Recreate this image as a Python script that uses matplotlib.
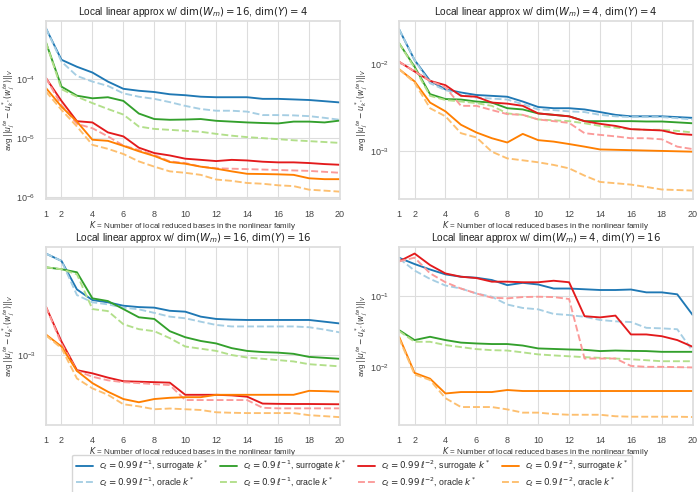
import numpy as np
import matplotlib
matplotlib.use("Agg")
import matplotlib.pyplot as plt
import matplotlib.ticker as mticker
import seaborn as sns

sns.set_theme(style="whitegrid")
plt.rcParams['font.family'] = ['Liberation Sans', 'DejaVu Sans']

K = list(range(1, 21))
xticks = [1, 2, 4, 6, 8, 10, 12, 14, 16, 18, 20]

# Panel (0,0): dim(W_m)=16, dim(Y)=4
tl_blue_s = [7.1e-4, 2.1e-4, 1.6e-4, 1.28e-4, 9e-5, 6.8e-5, 6.3e-5, 6.0e-5, 5.5e-5, 5.3e-5, 5.0e-5, 4.9e-5, 4.9e-5, 4.9e-5, 4.6e-5, 4.6e-5, 4.5e-5, 4.4e-5, 4.2e-5, 4.0e-5]
tl_blue_o = [7.1e-4, 1.96e-4, 1.12e-4, 9e-5, 7.6e-5, 5.7e-5, 5.0e-5, 4.6e-5, 4.05e-5, 3.5e-5, 3.1e-5, 2.9e-5, 2.9e-5, 2.8e-5, 2.45e-5, 2.45e-5, 2.42e-5, 2.35e-5, 2.2e-5, 2.04e-5]
tl_green_s = [4.1e-4, 7.4e-5, 5.2e-5, 4.7e-5, 4.9e-5, 4.25e-5, 2.6e-5, 2.1e-5, 2.04e-5, 2.06e-5, 2.1e-5, 1.96e-5, 1.9e-5, 1.84e-5, 1.8e-5, 1.77e-5, 1.9e-5, 1.9e-5, 1.84e-5, 1.98e-5]
tl_green_o = [4.1e-4, 6.7e-5, 5.0e-5, 3.9e-5, 3.1e-5, 2.5e-5, 1.57e-5, 1.43e-5, 1.38e-5, 1.33e-5, 1.28e-5, 1.18e-5, 1.1e-5, 1.04e-5, 1.0e-5, 9.6e-6, 9.2e-6, 8.9e-6, 8.6e-6, 8.3e-6]
tl_red_s = [1.03e-4, 4.25e-5, 1.93e-5, 1.84e-5, 1.25e-5, 1.07e-5, 6.9e-6, 5.6e-6, 5.1e-6, 4.5e-6, 4.3e-6, 4.1e-6, 4.3e-6, 4.2e-6, 4.0e-6, 3.9e-6, 3.9e-6, 3.8e-6, 3.65e-6, 3.55e-6]
tl_red_o = [1.03e-4, 3.6e-5, 1.74e-5, 1.47e-5, 1.07e-5, 7.5e-6, 6.3e-6, 5.2e-6, 4.05e-6, 3.8e-6, 3.3e-6, 3.1e-6, 3.05e-6, 3.0e-6, 2.95e-6, 2.9e-6, 2.85e-6, 2.8e-6, 2.7e-6, 2.6e-6]
tl_orange_s = [7.0e-5, 3.4e-5, 1.9e-5, 9.4e-6, 9.0e-6, 7.4e-6, 6.0e-6, 5.0e-6, 3.95e-6, 3.7e-6, 3.3e-6, 3.05e-6, 2.75e-6, 2.5e-6, 2.48e-6, 2.45e-6, 2.4e-6, 2.1e-6, 2.03e-6, 2.03e-6]
tl_orange_o = [6.1e-5, 3.0e-5, 1.57e-5, 7.7e-6, 6.6e-6, 5.4e-6, 4.05e-6, 3.3e-6, 2.75e-6, 2.6e-6, 2.4e-6, 2.0e-6, 1.9e-6, 1.75e-6, 1.7e-6, 1.6e-6, 1.55e-6, 1.35e-6, 1.3e-6, 1.25e-6]

# Panel (0,1): dim(W_m)=4, dim(Y)=4
tr_blue_s = [0.025, 0.0111, 6.4e-3, 5.1e-3, 4.7e-3, 4.4e-3, 4.3e-3, 4.2e-3, 3.7e-3, 3.2e-3, 3.1e-3, 3.1e-3, 3.0e-3, 2.8e-3, 2.6e-3, 2.5e-3, 2.5e-3, 2.5e-3, 2.45e-3, 2.4e-3]
tr_blue_o = [0.025, 0.0111, 6.0e-3, 5.0e-3, 4.5e-3, 4.1e-3, 4.0e-3, 3.9e-3, 3.45e-3, 3.0e-3, 2.95e-3, 2.85e-3, 2.8e-3, 2.6e-3, 2.5e-3, 2.45e-3, 2.45e-3, 2.45e-3, 2.38e-3, 2.3e-3]
tr_green_s = [0.0173, 9.3e-3, 4.5e-3, 3.95e-3, 3.9e-3, 3.7e-3, 3.6e-3, 3.1e-3, 3.0e-3, 2.7e-3, 2.6e-3, 2.5e-3, 2.2e-3, 2.2e-3, 2.2e-3, 2.2e-3, 2.18e-3, 2.18e-3, 2.13e-3, 2.08e-3]
tr_green_o = [0.0173, 9.0e-3, 4.3e-3, 3.85e-3, 3.7e-3, 3.55e-3, 3.3e-3, 2.7e-3, 2.6e-3, 2.3e-3, 2.25e-3, 2.2e-3, 2.08e-3, 1.94e-3, 1.85e-3, 1.78e-3, 1.75e-3, 1.75e-3, 1.7e-3, 1.63e-3]
tr_red_s = [0.0106, 8.2e-3, 6.4e-3, 5.7e-3, 4.3e-3, 4.2e-3, 3.6e-3, 3.5e-3, 3.3e-3, 2.7e-3, 2.6e-3, 2.5e-3, 2.2e-3, 2.05e-3, 1.94e-3, 1.78e-3, 1.75e-3, 1.72e-3, 1.57e-3, 1.53e-3]
tr_red_o = [0.0106, 8.2e-3, 6.4e-3, 5.4e-3, 3.3e-3, 3.3e-3, 2.95e-3, 2.65e-3, 2.6e-3, 2.3e-3, 2.2e-3, 2.1e-3, 1.6e-3, 1.53e-3, 1.47e-3, 1.4e-3, 1.4e-3, 1.36e-3, 1.12e-3, 1.05e-3]
tr_orange_s = [8.7e-3, 6.3e-3, 3.6e-3, 2.85e-3, 2.0e-3, 1.63e-3, 1.4e-3, 1.25e-3, 1.57e-3, 1.33e-3, 1.28e-3, 1.2e-3, 1.12e-3, 1.04e-3, 1.03e-3, 1.02e-3, 1.01e-3, 1.0e-3, 0.99e-3, 0.98e-3]
tr_orange_o = [8.7e-3, 6.1e-3, 3.1e-3, 2.5e-3, 1.6e-3, 1.43e-3, 9.8e-4, 8.2e-4, 7.8e-4, 7.4e-4, 6.9e-4, 6.3e-4, 5.2e-4, 4.4e-4, 4.25e-4, 4.1e-4, 3.85e-4, 3.6e-4, 3.55e-4, 3.5e-4]

# Panel (1,0): dim(W_m)=16, dim(Y)=16
bl_blue_s = [5.3e-3, 4.7e-3, 2.94e-3, 2.47e-3, 2.38e-3, 2.25e-3, 2.2e-3, 2.18e-3, 2.07e-3, 2.04e-3, 1.88e-3, 1.81e-3, 1.79e-3, 1.78e-3, 1.78e-3, 1.78e-3, 1.78e-3, 1.78e-3, 1.73e-3, 1.68e-3]
bl_blue_o = [5.3e-3, 4.7e-3, 2.68e-3, 2.38e-3, 2.3e-3, 2.18e-3, 2.12e-3, 2.0e-3, 1.88e-3, 1.83e-3, 1.73e-3, 1.64e-3, 1.6e-3, 1.6e-3, 1.6e-3, 1.6e-3, 1.6e-3, 1.58e-3, 1.52e-3, 1.45e-3]
bl_green_s = [4.23e-3, 4.1e-3, 3.9e-3, 2.54e-3, 2.43e-3, 2.13e-3, 1.86e-3, 1.81e-3, 1.48e-3, 1.34e-3, 1.26e-3, 1.21e-3, 1.12e-3, 1.07e-3, 1.05e-3, 1.04e-3, 1.02e-3, 0.97e-3, 0.955e-3, 0.94e-3]
bl_green_o = [4.23e-3, 4.1e-3, 3.77e-3, 2.13e-3, 2.06e-3, 1.66e-3, 1.53e-3, 1.48e-3, 1.32e-3, 1.15e-3, 1.11e-3, 1.07e-3, 1.0e-3, 0.96e-3, 0.94e-3, 0.92e-3, 0.9e-3, 0.86e-3, 0.845e-3, 0.83e-3]
bl_red_s = [2.21e-3, 1.25e-3, 7.8e-4, 7.4e-4, 6.9e-4, 6.5e-4, 6.45e-4, 6.4e-4, 6.35e-4, 5.2e-4, 5.2e-4, 5.2e-4, 5.15e-4, 5.04e-4, 4.5e-4, 4.48e-4, 4.47e-4, 4.47e-4, 4.46e-4, 4.45e-4]
bl_red_o = [2.21e-3, 1.2e-3, 7.7e-4, 7.0e-4, 6.6e-4, 6.4e-4, 6.3e-4, 6.2e-4, 6.1e-4, 4.77e-4, 4.77e-4, 4.77e-4, 4.77e-4, 4.77e-4, 4.2e-4, 4.16e-4, 4.16e-4, 4.16e-4, 4.16e-4, 4.16e-4]
bl_orange_s = [1.4e-3, 1.15e-3, 7.7e-4, 6.3e-4, 5.47e-4, 4.85e-4, 4.6e-4, 4.85e-4, 4.95e-4, 5.0e-4, 5.0e-4, 5.2e-4, 5.2e-4, 5.2e-4, 5.2e-4, 5.2e-4, 5.2e-4, 5.55e-4, 5.52e-4, 5.47e-4]
bl_orange_o = [1.38e-3, 1.12e-3, 6.8e-4, 5.78e-4, 5.2e-4, 4.45e-4, 4.3e-4, 4.1e-4, 4.15e-4, 4.1e-4, 4.05e-4, 3.9e-4, 3.87e-4, 3.85e-4, 3.85e-4, 3.85e-4, 3.85e-4, 3.72e-4, 3.66e-4, 3.6e-4]

# Panel (1,1): dim(W_m)=4, dim(Y)=16
br_blue_s = [0.348, 0.284, 0.238, 0.203, 0.188, 0.182, 0.169, 0.143, 0.154, 0.146, 0.128, 0.128, 0.125, 0.122, 0.122, 0.124, 0.113, 0.113, 0.106, 0.054]
br_blue_o = [0.34, 0.23, 0.175, 0.141, 0.128, 0.109, 0.098, 0.076, 0.068, 0.065, 0.056, 0.054, 0.051, 0.046, 0.044, 0.043, 0.0356, 0.035, 0.034, 0.0167]
br_red_s = [0.31, 0.40, 0.275, 0.209, 0.188, 0.18, 0.16, 0.16, 0.157, 0.157, 0.165, 0.157, 0.052, 0.05, 0.053, 0.0287, 0.0287, 0.0271, 0.0239, 0.0192]
br_red_o = [0.31, 0.35, 0.21, 0.157, 0.128, 0.109, 0.095, 0.093, 0.097, 0.098, 0.097, 0.091, 0.0131, 0.0131, 0.0131, 0.0103, 0.01, 0.01, 0.0099, 0.0098]
br_green_s = [0.033, 0.0239, 0.0266, 0.0239, 0.022, 0.0214, 0.021, 0.021, 0.02, 0.0182, 0.0179, 0.0176, 0.0174, 0.0167, 0.017, 0.0168, 0.0167, 0.0163, 0.0163, 0.0163]
br_green_o = [0.032, 0.0226, 0.0226, 0.0203, 0.019, 0.0178, 0.0172, 0.017, 0.016, 0.015, 0.0145, 0.0141, 0.0137, 0.0134, 0.0131, 0.0128, 0.0124, 0.012, 0.012, 0.012]
br_orange_s = [0.0266, 8.2e-3, 6.8e-3, 4.2e-3, 4.4e-3, 4.4e-3, 4.4e-3, 4.7e-3, 4.55e-3, 4.55e-3, 4.55e-3, 4.55e-3, 4.55e-3, 4.55e-3, 4.55e-3, 4.55e-3, 4.55e-3, 4.55e-3, 4.55e-3, 4.55e-3]
br_orange_o = [0.0252, 7.8e-3, 6.5e-3, 3.6e-3, 2.7e-3, 2.7e-3, 2.7e-3, 2.5e-3, 2.25e-3, 2.25e-3, 2.15e-3, 2.1e-3, 2.1e-3, 2.1e-3, 2.0e-3, 1.97e-3, 1.97e-3, 1.97e-3, 1.97e-3, 1.95e-3]

titles = [r"Local linear approx w/ $\dim(W_m) = 16$, $\dim(Y) = 4$",
          r"Local linear approx w/ $\dim(W_m) = 4$, $\dim(Y) = 4$",
          r"Local linear approx w/ $\dim(W_m) = 16$, $\dim(Y) = 16$",
          r"Local linear approx w/ $\dim(W_m) = 4$, $\dim(Y) = 16$"]

series_labels = [r"$c_\ell = 0.99\,\ell^{-1}$, surrogate $k^*$", r"$c_\ell = 0.99\,\ell^{-1}$, oracle $k^*$",
                 r"$c_\ell = 0.9\,\ell^{-1}$, surrogate $k^*$", r"$c_\ell = 0.9\,\ell^{-1}$, oracle $k^*$",
                 r"$c_\ell = 0.99\,\ell^{-2}$, surrogate $k^*$", r"$c_\ell = 0.99\,\ell^{-2}$, oracle $k^*$",
                 r"$c_\ell = 0.9\,\ell^{-2}$, surrogate $k^*$", r"$c_\ell = 0.9\,\ell^{-2}$, oracle $k^*$"]

panels = [
    [tl_blue_s, tl_blue_o, tl_green_s, tl_green_o, tl_red_s, tl_red_o, tl_orange_s, tl_orange_o],
    [tr_blue_s, tr_blue_o, tr_green_s, tr_green_o, tr_red_s, tr_red_o, tr_orange_s, tr_orange_o],
    [bl_blue_s, bl_blue_o, bl_green_s, bl_green_o, bl_red_s, bl_red_o, bl_orange_s, bl_orange_o],
    [br_blue_s, br_blue_o, br_green_s, br_green_o, br_red_s, br_red_o, br_orange_s, br_orange_o],
]
ylims = [(9.3e-7, 9.6e-4), (2.78e-4, 0.0315), (3.16e-4, 5.94e-3), (1.5e-3, 0.5)]

pal = sns.color_palette("Paired", 8)
colors = [pal[1], pal[0], pal[3], pal[2], pal[5], pal[4], pal[7], pal[6]]
styles = ['-', '--'] * 4

fig = plt.figure(figsize=(6.99, 4.92), dpi=100)
rects = [
    [0.0658, 0.595, 0.4206, 0.363],
    [0.571, 0.595, 0.420, 0.363],
    [0.0658, 0.136, 0.4206, 0.3626],
    [0.571, 0.136, 0.420, 0.3626],
]
ylabel = r"avg $||u_j^{te} - u_{k^*}^*(w_j^{te})||_V$"
handles = []
for i, (rect, data) in enumerate(zip(rects, panels)):
    ax = fig.add_axes(rect)
    for j, y in enumerate(data):
        ln, = ax.plot(K, y, color=colors[j], linestyle=styles[j], lw=1.35,
                      label=series_labels[j])
        if i == 0:
            handles.append(ln)
    ax.set_yscale('log')
    ax.set_ylim(*ylims[i])
    ax.set_xlim(1, 20)
    ax.set_xticks(xticks)
    ax.yaxis.set_minor_locator(mticker.NullLocator())
    ax.tick_params(labelsize=6.5, pad=1.5, colors='#444444')
    ax.set_title(titles[i], fontsize=7.3, pad=4, color='#222222')
    ax.set_xlabel(r"$K$ = Number of local reduced bases in the nonlinear family", fontsize=5.8,
                  labelpad=0.5, color='#333333')
    ax.set_ylabel(ylabel, fontsize=5.6, color='#333333')
    ax.yaxis.set_label_coords(-0.098, 0.5)
    for s in ax.spines.values():
        s.set_color('#dddddd')
    ax.grid(color='#dddddd', lw=0.8)

fig.legend(handles=handles, loc='center', bbox_to_anchor=(0.504, 0.037), ncol=4,
           fontsize=6.3, frameon=True, handlelength=1.9, columnspacing=1.4,
           borderpad=0.45, labelspacing=0.3, handletextpad=0.7)

fig.savefig("out.png", dpi=100)
